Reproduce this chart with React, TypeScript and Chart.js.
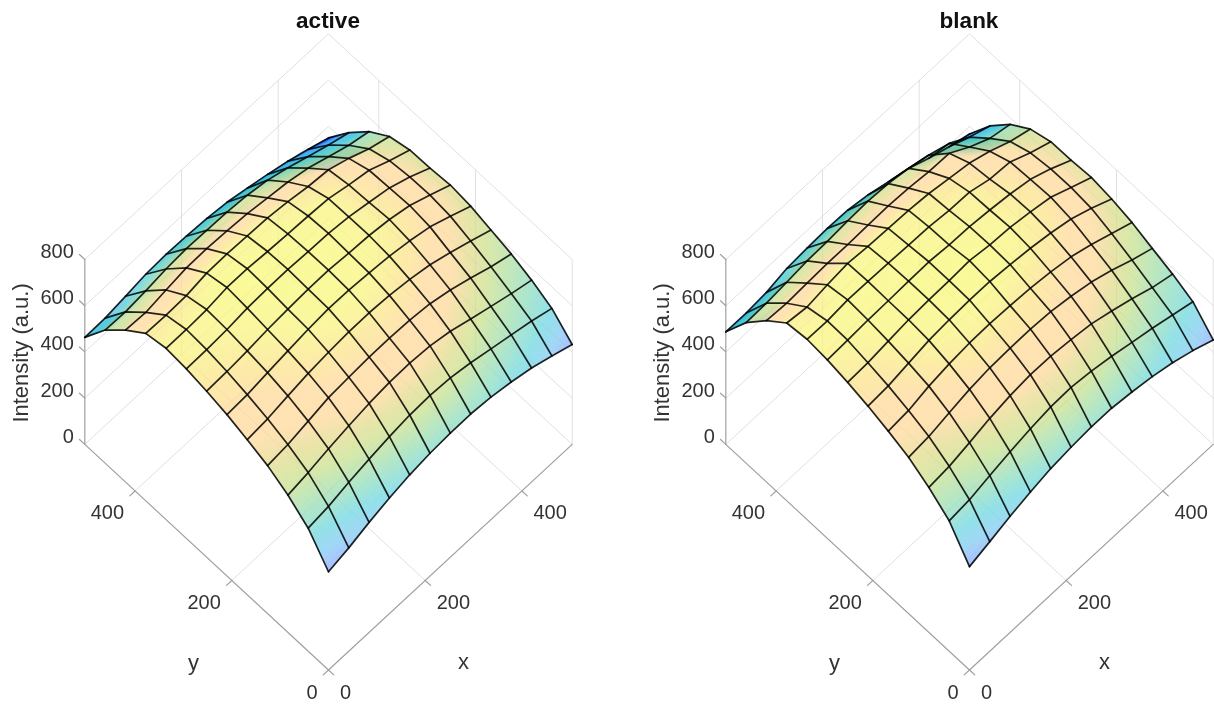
import React, { useEffect, useRef } from "react";
import { Chart, registerables } from "chart.js";

Chart.register(...registerables);

const xGrid = [0, 42, 84, 126, 168, 210, 252, 294, 336, 378, 420, 462, 504];
const yGrid = [0, 42, 84, 126, 168, 210, 252, 294, 336, 378, 420, 462, 504];
const xTicks = [0, 200, 400];
const yTicks = [0, 200, 400];
const zTicks = [0, 200, 400, 600, 800];

const titles = ["active", "blank"];
const zLabel = "Intensity (a.u.)";

// rows: y index, columns: x index
const activeZ = [
  [425, 447, 476, 500, 519, 531, 537, 538, 530, 514, 493, 464, 432],
  [532, 545, 568, 587, 603, 615, 619, 613, 597, 576, 555, 534, 507],
  [594, 610, 632, 650, 665, 675, 677, 670, 652, 624, 597, 571, 548],
  [640, 650, 670, 690, 697, 703, 704, 700, 690, 668, 638, 606, 580],
  [671, 680, 698, 714, 724, 731, 732, 726, 714, 696, 667, 636, 602],
  [698, 703, 717, 730, 742, 750, 749, 742, 733, 718, 697, 662, 624],
  [718, 722, 730, 741, 748, 753, 754, 746, 741, 729, 708, 672, 634],
  [733, 735, 741, 752, 756, 757, 753, 750, 740, 722, 703, 669, 626],
  [741, 741, 746, 760, 760, 753, 748, 744, 738, 716, 698, 658, 623],
  [724, 722, 725, 741, 743, 739, 736, 725, 709, 700, 668, 628, 600],
  [657, 652, 668, 682, 684, 680, 673, 660, 647, 626, 594, 562, 540],
  [576, 573, 583, 596, 603, 601, 598, 590, 574, 546, 513, 482, 454],
  [463, 465, 478, 492, 497, 494, 489, 478, 458, 436, 412, 382, 350],
];

const blankZ = [
  [447, 474, 502, 526, 546, 557, 564, 563, 552, 537, 516, 487, 452],
  [564, 574, 597, 619, 637, 650, 653, 642, 625, 604, 584, 560, 536],
  [627, 637, 658, 682, 699, 708, 707, 697, 684, 658, 630, 597, 574],
  [676, 685, 706, 726, 738, 742, 743, 737, 722, 702, 672, 635, 604],
  [708, 716, 740, 755, 764, 766, 763, 757, 746, 730, 702, 668, 635],
  [735, 741, 758, 775, 783, 787, 786, 778, 767, 752, 731, 696, 655],
  [756, 760, 772, 783, 788, 790, 795, 782, 776, 762, 744, 705, 667],
  [772, 776, 782, 784, 788, 790, 782, 779, 770, 758, 740, 704, 660],
  [780, 778, 788, 786, 784, 781, 778, 768, 766, 741, 734, 692, 659],
  [769, 757, 772, 783, 775, 772, 768, 760, 744, 729, 699, 660, 632],
  [698, 692, 698, 702, 702, 705, 706, 702, 692, 690, 636, 592, 571],
  [608, 611, 620, 631, 634, 642, 646, 640, 625, 601, 570, 516, 483],
  [487, 487, 495, 517, 524, 528, 525, 510, 485, 462, 425, 393, 367],
];

const colorStops: [number, number, number, number][] = [
  [0, 70, 60, 240],
  [0.12, 130, 140, 250],
  [0.19, 170, 190, 255],
  [0.29, 160, 215, 245],
  [0.39, 145, 225, 232],
  [0.51, 178, 230, 198],
  [0.63, 215, 232, 168],
  [0.7, 232, 228, 168],
  [0.775, 255, 226, 178],
  [0.85, 255, 226, 178],
  [0.91, 252, 236, 165],
  [0.955, 250, 247, 158],
  [1, 250, 250, 152],
];

const FONT = '"Liberation Sans", Arial, sans-serif';
const CANVAS_W = 656;
const CANVAS_H = 706;
const K_XY_X = 0.4835;
const K_XY_Y = 0.4476;
const K_Z = 0.2312;
const X_MAX = 504;
const Y_MAX = 504;
const Z_MAX = 800;
const TICK = 11;

const proj = (x: number, y: number, z: number) => ({
  x: K_XY_X * (x - y),
  y: K_XY_Y * (x + y) + K_Z * z,
});

const line = (pts: number[][], color: string, width: number, order: number, label: string) => ({
  label,
  type: "scatter" as const,
  showLine: true,
  data: pts.map((p) => proj(p[0], p[1], p[2])),
  borderColor: color,
  borderWidth: width,
  pointRadius: 0,
  pointHoverRadius: 0,
  clip: false,
  order,
  borderCapStyle: "round" as const,
  borderJoinStyle: "round" as const,
});

function gridSets(color: string, order: number) {
  const out: any[] = [];
  for (const z of zTicks) {
    out.push(line([[0, Y_MAX, z], [X_MAX, Y_MAX, z], [X_MAX, 0, z]], color, 1, order, "wall"));
  }
  for (const x of xTicks.slice(1)) {
    out.push(line([[x, 0, 0], [x, Y_MAX, 0], [x, Y_MAX, Z_MAX]], color, 1, order, "grid"));
  }
  for (const y of yTicks.slice(1)) {
    out.push(line([[0, y, 0], [X_MAX, y, 0], [X_MAX, y, Z_MAX]], color, 1, order, "grid"));
  }
  out.push(line([[X_MAX, 0, 0], [X_MAX, 0, Z_MAX]], color, 1, order, "grid"));
  return out;
}

function axisSets() {
  const c = "#a0a0a0";
  const w = 1.2;
  const out: any[] = [
    line([[0, 0, 0], [X_MAX, 0, 0]], c, w, 1, "axis"),
    line([[0, 0, 0], [0, Y_MAX, 0]], c, w, 1, "axis"),
    line([[0, Y_MAX, 0], [0, Y_MAX, Z_MAX]], c, w, 1, "axis"),
  ];
  for (const x of xTicks) out.push(line([[x, 0, 0], [x, -TICK, 0]], c, w, 1, "tick"));
  for (const y of yTicks) out.push(line([[0, y, 0], [-TICK, y, 0]], c, w, 1, "tick"));
  for (const z of zTicks) out.push(line([[0, Y_MAX, z], [0, Y_MAX + TICK, z]], c, w, 1, "tick"));
  return out;
}

function colorFor(t: number, shade: number) {
  const v = Math.max(0, Math.min(1, t));
  let r = 250, g = 250, b = 150;
  for (let k = 1; k < colorStops.length; k++) {
    const s0 = colorStops[k - 1];
    const s1 = colorStops[k];
    if (v <= s1[0]) {
      const f = (v - s0[0]) / (s1[0] - s0[0]);
      r = s0[1] + (s1[1] - s0[1]) * f;
      g = s0[2] + (s1[2] - s0[2]) * f;
      b = s0[3] + (s1[3] - s0[3]) * f;
      break;
    }
  }
  // foreshortened strips of a translucent sheet look denser
  r -= 95 * shade;
  g -= 30 * shade;
  b -= 5 * shade;
  return `rgb(${Math.round(r)},${Math.round(g)},${Math.round(b)})`;
}

function surfacePlugin(zGrid: number[][]) {
  const flat = zGrid.flat();
  const zMin = Math.min(...flat);
  const zMax = Math.max(...flat);
  const SUB = 7;
  return {
    id: "surfacePaint",
    afterDatasetDraw(chart: any, args: any) {
      if (chart.data.datasets[args.index].label !== "surface") return;
      const { ctx, scales } = chart;
      const toPx = (x: number, y: number, z: number) => {
        const p = proj(x, y, z);
        return [scales.x.getPixelForValue(p.x), scales.y.getPixelForValue(p.y)];
      };
      const flatArea = (2 * K_XY_X * 42 * 2 * K_XY_Y * 42) / 2 / (SUB * SUB);
      ctx.save();
      ctx.lineWidth = 0.7;
      for (let j = yGrid.length - 2; j >= 0; j--) {
        for (let i = xGrid.length - 2; i >= 0; i--) {
          const x0 = xGrid[i], x1 = xGrid[i + 1], y0 = yGrid[j], y1 = yGrid[j + 1];
          const z00 = zGrid[j][i], z10 = zGrid[j][i + 1], z01 = zGrid[j + 1][i], z11 = zGrid[j + 1][i + 1];
          const at = (a: number, b: number) =>
            z00 * (1 - a) * (1 - b) + z10 * a * (1 - b) + z01 * (1 - a) * b + z11 * a * b;
          for (let b = SUB - 1; b >= 0; b--) {
            for (let a = SUB - 1; a >= 0; a--) {
              const a0 = a / SUB, a1 = (a + 1) / SUB, b0 = b / SUB, b1 = (b + 1) / SUB;
              const xa = x0 + (x1 - x0) * a0, xb = x0 + (x1 - x0) * a1;
              const ya = y0 + (y1 - y0) * b0, yb = y0 + (y1 - y0) * b1;
              const p1 = toPx(xa, ya, at(a0, b0));
              const p2 = toPx(xb, ya, at(a1, b0));
              const p3 = toPx(xb, yb, at(a1, b1));
              const p4 = toPx(xa, yb, at(a0, b1));
              const zc = at((a0 + a1) / 2, (b0 + b1) / 2);
              const area =
                Math.abs((p3[0] - p1[0]) * (p4[1] - p2[1]) - (p3[1] - p1[1]) * (p4[0] - p2[0])) / 2;
              const shade = Math.max(0, Math.min(1, (0.5 - area / flatArea) / 0.25));
              const col = colorFor((zc - zMin) / (zMax - zMin), shade);
              ctx.fillStyle = col;
              ctx.strokeStyle = col;
              ctx.beginPath();
              ctx.moveTo(p1[0], p1[1]);
              ctx.lineTo(p2[0], p2[1]);
              ctx.lineTo(p3[0], p3[1]);
              ctx.lineTo(p4[0], p4[1]);
              ctx.closePath();
              ctx.fill();
              ctx.stroke();
            }
          }
        }
      }
      ctx.restore();
    },
  };
}

const labelPlugin = {
  id: "axisText",
  afterDraw(chart: any) {
    const { ctx, scales } = chart;
    const toPx = (x: number, y: number, z: number) => {
      const p = proj(x, y, z);
      return [scales.x.getPixelForValue(p.x), scales.y.getPixelForValue(p.y)];
    };
    ctx.save();
    ctx.fillStyle = "#333333";
    ctx.font = `20px ${FONT}`;
    ctx.textBaseline = "middle";
    ctx.textAlign = "left";
    for (const x of xTicks) {
      const p = toPx(x, 0, 0);
      ctx.fillText(String(x), p[0] + 11.5, p[1] + 23);
    }
    ctx.textAlign = "right";
    for (const y of yTicks) {
      const p = toPx(0, y, 0);
      ctx.fillText(String(y), p[0] - 11, p[1] + 23);
    }
    for (const z of zTicks) {
      const p = toPx(0, Y_MAX, z);
      ctx.fillText(String(z), p[0] - 11, p[1] - 7);
    }
    ctx.font = `22px ${FONT}`;
    ctx.textAlign = "center";
    const o = toPx(0, 0, 0);
    ctx.fillText("x", o[0] + 135, o[1] - 7);
    ctx.fillText("y", o[0] - 135, o[1] - 6);
    const zl = toPx(0, Y_MAX, 400);
    ctx.translate(zl[0] - 63, zl[1] + 1);
    ctx.rotate(-Math.PI / 2);
    ctx.fillText(zLabel, 0, 0);
    ctx.restore();
  },
};

function Panel({ title, zGrid, left }: { title: string; zGrid: number[][]; left: number }) {
  const ref = useRef<HTMLCanvasElement>(null);
  useEffect(() => {
    const nodes: any[] = [];
    yGrid.forEach((y, j) => xGrid.forEach((x, i) => nodes.push(proj(x, y, zGrid[j][i]))));
    const mesh: any[] = [];
    const meshColor = "rgba(0,0,0,0.85)";
    xGrid.forEach((x, i) => {
      mesh.push(line(yGrid.map((y, j) => [x, y, zGrid[j][i]]), meshColor, 1.7, 0, "mesh"));
    });
    yGrid.forEach((y, j) => {
      mesh.push(line(xGrid.map((x, i) => [x, y, zGrid[j][i]]), meshColor, 1.7, 0, "mesh"));
    });
    const chart = new Chart(ref.current as HTMLCanvasElement, {
      type: "scatter",
      data: {
        datasets: [
          ...mesh,
          ...axisSets(),
          ...gridSets("rgba(0,0,0,0.035)", 2),
          {
            label: "surface",
            data: nodes,
            pointRadius: 0,
            pointHoverRadius: 0,
            showLine: false,
            clip: false,
            order: 3,
          },
          ...gridSets("#e8e8e8", 4),
        ],
      },
      options: {
        animation: false,
        responsive: false,
        events: [],
        layout: { padding: 0 },
        scales: {
          x: { type: "linear", display: false, min: -328.5, max: 327.5 },
          y: { type: "linear", display: false, min: -36, max: 635 },
        },
        plugins: {
          legend: { display: false },
          tooltip: { enabled: false },
          title: {
            display: true,
            text: title,
            color: "#111111",
            font: { family: FONT, size: 22.5, weight: "bold", lineHeight: 1.2 },
            padding: { top: 8, bottom: 0 },
          },
        },
      },
      plugins: [surfacePlugin(zGrid), labelPlugin],
    } as any);
    return () => chart.destroy();
  }, [title, zGrid]);
  return (
    <canvas
      ref={ref}
      width={CANVAS_W}
      height={CANVAS_H}
      style={{ position: "absolute", left, top: 0, display: "block", width: CANVAS_W, height: CANVAS_H }}
    />
  );
}

export default function App() {
  return (
    <div style={{ position: "absolute", left: 0, top: 0, width: 1214, height: 706, overflow: "hidden", background: "#fff" }}>
      <Panel title={titles[0]} zGrid={activeZ} left={0} />
      <Panel title={titles[1]} zGrid={blankZ} left={641} />
    </div>
  );
}
